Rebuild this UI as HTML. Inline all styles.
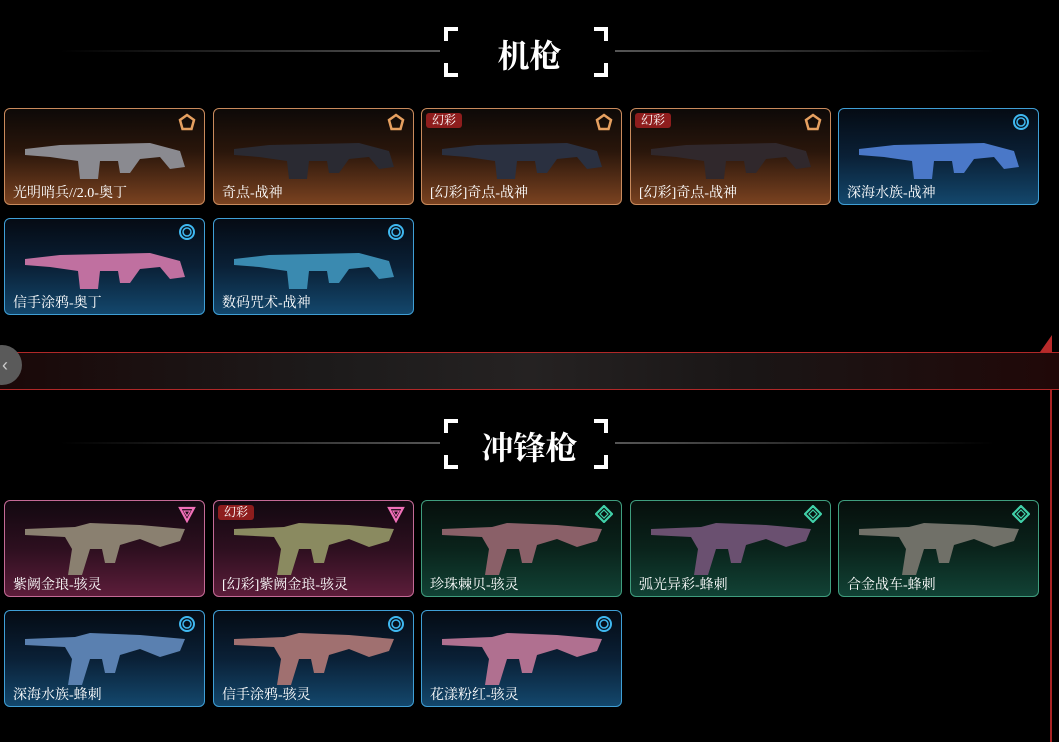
<!DOCTYPE html>
<html><head><meta charset="utf-8"><style>
*{margin:0;padding:0;box-sizing:border-box}
body{width:1059px;height:742px;background:#000;overflow:hidden;position:relative;font-family:"Liberation Serif","Noto Serif CJK SC",serif}
.card{position:absolute;width:201px;height:97px;border-radius:6px;border:1px solid;overflow:hidden}
.gold{background:linear-gradient(#0d0907 0%,#2a160b 45%,#7a4220 100%);border-color:#c98a5c}
.blue{background:linear-gradient(#050b14 0%,#0a2036 50%,#13476c 100%);border-color:#3f9fd6}
.pink{background:linear-gradient(#120810 0%,#2d0f1f 50%,#5c1d3a 100%);border-color:#c46a96}
.green{background:linear-gradient(#060f0c 0%,#0a231b 50%,#114235 100%);border-color:#3f9d7e}
.lbl{position:absolute;left:8px;bottom:1px;color:#fff;font-size:14px;line-height:18px;font-family:"Liberation Serif","Noto Serif CJK SC",serif}
.tag{position:absolute;left:4px;top:4px;background:#8e1d1d;color:#fff;font-size:12px;line-height:15px;padding:0 6px;border-radius:3px;font-family:"Liberation Serif","Noto Serif CJK SC",serif}
.ic{position:absolute;right:8px;top:4px;width:18px;height:18px}
.gun{position:absolute;left:15px;top:18px;width:170px;height:60px}
.title{position:absolute;left:0;width:1059px;text-align:center;color:#fff;font-weight:bold;font-size:32px;font-family:"Noto Serif CJK SC",serif}
.line{position:absolute;height:2px}
.br{position:absolute;width:14px;height:14px;border-color:#fff;border-style:solid;border-width:0}
</style></head><body>

<div class="line" style="left:60px;top:50px;width:380px;background:linear-gradient(90deg,transparent,#555)"></div>
<div class="line" style="left:615px;top:50px;width:380px;background:linear-gradient(90deg,#555,transparent)"></div>
<div class="br" style="left:444px;top:27px;border-left-width:4px;border-top-width:4px"></div>
<div class="br" style="left:444px;top:63px;border-left-width:4px;border-bottom-width:4px"></div>
<div class="br" style="left:594px;top:27px;border-right-width:4px;border-top-width:4px"></div>
<div class="br" style="left:594px;top:63px;border-right-width:4px;border-bottom-width:4px"></div>
<div class="title" style="top:30px;line-height:48px">机枪</div>

<div style="position:absolute;left:0;top:352px;width:1059px;height:38px;background:linear-gradient(90deg,#1a0808,#1c1a1a 30%,#252222 50%,#1a1616 70%,#200808);border-top:1px solid #b02828;border-bottom:1px solid #b02828"></div>
<div style="position:absolute;left:1050px;top:390px;width:2px;height:352px;background:#a82424"></div>
<div style="position:absolute;left:1040px;top:335px;width:0;height:0;border-left:12px solid transparent;border-bottom:17px solid #b82a2a"></div>
<div style="position:absolute;left:-18px;top:345px;width:40px;height:40px;border-radius:20px;background:#5a5a5a;color:#ccc;font-size:18px;line-height:40px;text-align:right;padding-right:14px;font-family:'Liberation Sans',sans-serif">‹</div>

<div class="line" style="left:60px;top:442px;width:380px;background:linear-gradient(90deg,transparent,#555)"></div>
<div class="line" style="left:615px;top:442px;width:380px;background:linear-gradient(90deg,#555,transparent)"></div>
<div class="br" style="left:444px;top:419px;border-left-width:4px;border-top-width:4px"></div>
<div class="br" style="left:444px;top:455px;border-left-width:4px;border-bottom-width:4px"></div>
<div class="br" style="left:594px;top:419px;border-right-width:4px;border-top-width:4px"></div>
<div class="br" style="left:594px;top:455px;border-right-width:4px;border-bottom-width:4px"></div>
<div class="title" style="top:422px;line-height:48px">冲锋枪</div>

<svg width="0" height="0" style="position:absolute">
<defs>
<symbol id="mg" viewBox="0 0 170 60"><path d="M5 22 L40 18 L130 16 L160 24 L165 40 L150 42 L140 30 L120 32 L110 46 L100 46 L98 34 L80 34 L78 52 L60 52 L58 34 L30 30 L5 28Z"/></symbol>
<symbol id="smg" viewBox="0 0 170 60"><path d="M5 10 L55 8 L70 4 L120 6 L165 10 L160 22 L140 28 L120 20 L100 26 L95 44 L85 44 L82 30 L70 30 L62 56 L48 56 L52 30 L45 18 L5 16Z"/></symbol>
<symbol id="gi" viewBox="0 0 18 18"><path d="M9 2 L16 7 L13.5 16 L4.5 16 L2 7Z" fill="none" stroke="#e6a060" stroke-width="2.5"/></symbol>
<symbol id="bi" viewBox="0 0 18 18"><circle cx="9" cy="9" r="7" fill="none" stroke="#3fb8f0" stroke-width="2"/><circle cx="9" cy="9" r="4" fill="none" stroke="#3fb8f0" stroke-width="1.5"/></symbol>
<symbol id="pi" viewBox="0 0 18 18"><path d="M2 3 L16 3 L9 16Z" fill="none" stroke="#f070b8" stroke-width="2.2"/><path d="M6 6 L12 6 L9 11Z" fill="none" stroke="#f070b8" stroke-width="1.2"/></symbol>
<symbol id="ni" viewBox="0 0 18 18"><path d="M9 1 L17 9 L9 17 L1 9Z" fill="none" stroke="#40d0a8" stroke-width="2.2"/><path d="M9 5 L13 9 L9 13 L5 9Z" fill="none" stroke="#40d0a8" stroke-width="1.2"/></symbol>
</defs></svg>

<div class="card gold" style="left:4px;top:108px"><svg class="gun"><use href="#mg" fill="#8a8a90"/></svg><svg class="ic"><use href="#gi"/></svg><div class="lbl">光明哨兵//2.0-奥丁</div></div>
<div class="card gold" style="left:213px;top:108px"><svg class="gun"><use href="#mg" fill="#2a2a32"/></svg><svg class="ic"><use href="#gi"/></svg><div class="lbl">奇点-战神</div></div>
<div class="card gold" style="left:421px;top:108px"><div class="tag">幻彩</div><svg class="gun"><use href="#mg" fill="#2a3040"/></svg><svg class="ic"><use href="#gi"/></svg><div class="lbl">[幻彩]奇点-战神</div></div>
<div class="card gold" style="left:630px;top:108px"><div class="tag">幻彩</div><svg class="gun"><use href="#mg" fill="#30282c"/></svg><svg class="ic"><use href="#gi"/></svg><div class="lbl">[幻彩]奇点-战神</div></div>
<div class="card blue" style="left:838px;top:108px"><svg class="gun"><use href="#mg" fill="#4a78c8"/></svg><svg class="ic"><use href="#bi"/></svg><div class="lbl">深海水族-战神</div></div>
<div class="card blue" style="left:4px;top:218px"><svg class="gun"><use href="#mg" fill="#c070a0"/></svg><svg class="ic"><use href="#bi"/></svg><div class="lbl">信手涂鸦-奥丁</div></div>
<div class="card blue" style="left:213px;top:218px"><svg class="gun"><use href="#mg" fill="#3a8ab0"/></svg><svg class="ic"><use href="#bi"/></svg><div class="lbl">数码咒术-战神</div></div>

<div class="card pink" style="left:4px;top:500px"><svg class="gun"><use href="#smg" fill="#8a8070"/></svg><svg class="ic"><use href="#pi"/></svg><div class="lbl">紫阙金琅-骇灵</div></div>
<div class="card pink" style="left:213px;top:500px"><div class="tag">幻彩</div><svg class="gun"><use href="#smg" fill="#8a8a60"/></svg><svg class="ic"><use href="#pi"/></svg><div class="lbl">[幻彩]紫阙金琅-骇灵</div></div>
<div class="card green" style="left:421px;top:500px"><svg class="gun"><use href="#smg" fill="#8a6068"/></svg><svg class="ic"><use href="#ni"/></svg><div class="lbl">珍珠棘贝-骇灵</div></div>
<div class="card green" style="left:630px;top:500px"><svg class="gun"><use href="#smg" fill="#6a5070"/></svg><svg class="ic"><use href="#ni"/></svg><div class="lbl">弧光异彩-蜂刺</div></div>
<div class="card green" style="left:838px;top:500px"><svg class="gun"><use href="#smg" fill="#707068"/></svg><svg class="ic"><use href="#ni"/></svg><div class="lbl">合金战车-蜂刺</div></div>
<div class="card blue" style="left:4px;top:610px"><svg class="gun"><use href="#smg" fill="#5a80b0"/></svg><svg class="ic"><use href="#bi"/></svg><div class="lbl">深海水族-蜂刺</div></div>
<div class="card blue" style="left:213px;top:610px"><svg class="gun"><use href="#smg" fill="#a07070"/></svg><svg class="ic"><use href="#bi"/></svg><div class="lbl">信手涂鸦-骇灵</div></div>
<div class="card blue" style="left:421px;top:610px"><svg class="gun"><use href="#smg" fill="#b07090"/></svg><svg class="ic"><use href="#bi"/></svg><div class="lbl">花漾粉红-骇灵</div></div>

</body></html>
